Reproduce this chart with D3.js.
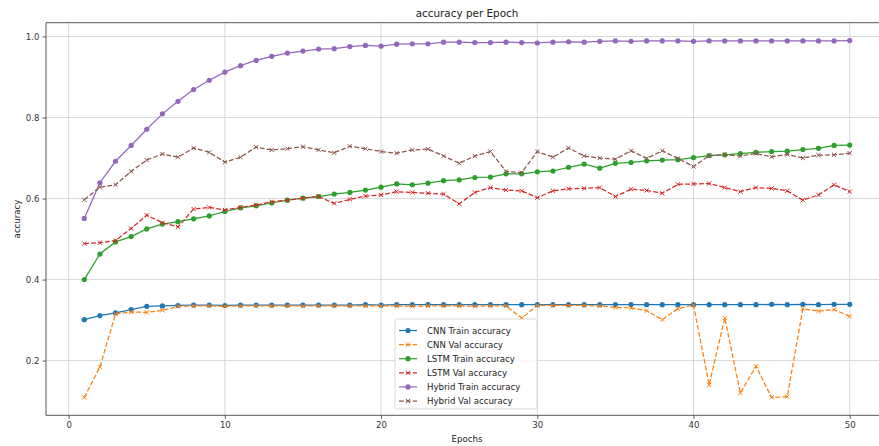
<!DOCTYPE html>
<html>
<head>
<meta charset="utf-8">
<script src="https://cdn.jsdelivr.net/npm/d3@7"></script>
<style>
  html, body { margin: 0; padding: 0; background: #fff; }
  svg { display: block; font-family: "DejaVu Sans", sans-serif; }
</style>
</head>
<body>
<svg id="chart" width="879" height="446"></svg>
<script>
// ---- Data ----
const epochs = d3.range(1, 51);

const cnnTrain = [0.301,0.311,0.318,0.326,0.334,0.335,0.336,0.337,0.337,0.336,
                  0.337,0.337,0.337,0.337,0.337,0.337,0.337,0.337,0.338,0.337,
                  0.338,0.338,0.338,0.338,0.338,0.338,0.338,0.338,0.338,0.338,
                  0.338,0.338,0.338,0.338,0.338,0.338,0.338,0.338,0.338,0.338,
                  0.338,0.338,0.338,0.338,0.339,0.338,0.339,0.338,0.339,0.339];
const cnnVal   = [0.109,0.184,0.315,0.320,0.319,0.324,0.334,0.335,0.335,0.334,
                  0.335,0.335,0.335,0.335,0.335,0.335,0.335,0.335,0.335,0.335,
                  0.335,0.334,0.335,0.335,0.335,0.334,0.335,0.335,0.305,0.336,
                  0.336,0.336,0.336,0.335,0.331,0.330,0.323,0.301,0.328,0.337,
                  0.140,0.305,0.120,0.186,0.109,0.111,0.328,0.322,0.326,0.309];
const lstmTrain = [0.400,0.463,0.493,0.506,0.525,0.537,0.543,0.550,0.557,0.568,
                   0.577,0.582,0.589,0.596,0.601,0.605,0.611,0.615,0.621,0.628,
                   0.636,0.634,0.638,0.644,0.646,0.652,0.653,0.661,0.661,0.666,
                   0.668,0.677,0.685,0.675,0.687,0.689,0.693,0.695,0.696,0.701,
                   0.706,0.708,0.711,0.714,0.716,0.717,0.721,0.724,0.731,0.732];
const lstmVal   = [0.489,0.491,0.496,0.526,0.559,0.540,0.530,0.574,0.578,0.572,
                   0.578,0.584,0.592,0.596,0.601,0.605,0.588,0.598,0.606,0.609,
                   0.617,0.615,0.613,0.611,0.587,0.615,0.627,0.621,0.619,0.602,
                   0.619,0.624,0.625,0.627,0.605,0.623,0.620,0.613,0.635,0.636,
                   0.637,0.627,0.617,0.627,0.625,0.619,0.596,0.609,0.634,0.617];
const hybridTrain = [0.551,0.639,0.692,0.731,0.771,0.809,0.840,0.869,0.892,0.912,
                     0.928,0.941,0.951,0.959,0.964,0.969,0.970,0.975,0.978,0.976,
                     0.981,0.982,0.982,0.986,0.986,0.985,0.985,0.986,0.985,0.984,
                     0.986,0.987,0.986,0.988,0.989,0.988,0.989,0.989,0.989,0.988,
                     0.989,0.989,0.989,0.989,0.989,0.989,0.989,0.989,0.989,0.990];
const hybridVal = [0.597,0.628,0.634,0.667,0.695,0.710,0.702,0.725,0.714,0.690,
                   0.702,0.727,0.720,0.723,0.728,0.720,0.713,0.729,0.723,0.716,
                   0.712,0.720,0.722,0.705,0.687,0.705,0.716,0.667,0.664,0.716,
                   0.702,0.725,0.705,0.700,0.697,0.718,0.699,0.718,0.699,0.679,
                   0.706,0.708,0.705,0.711,0.703,0.709,0.700,0.707,0.708,0.712];

const seriesNames = ["CNN Train accuracy","CNN Val accuracy","LSTM Train accuracy",
                     "LSTM Val accuracy","Hybrid Train accuracy","Hybrid Val accuracy"];
const seriesValues = [cnnTrain, cnnVal, lstmTrain, lstmVal, hybridTrain, hybridVal];
const seriesColors = ["#1f77b4","#ff7f0e","#2ca02c","#d62728","#9467bd","#8c564b"];
const seriesIsVal  = [false, true, false, true, false, true];

const xTicks = [0,10,20,30,40,50];
const yTicks = [0.2,0.4,0.6,0.8,1.0];
const titleText = "accuracy per Epoch";
const xLabelText = "Epochs";
const yLabelText = "accuracy";

// ---- Layout ----
const svg = d3.select("#chart");
const L = 46, R = 888, T = 22.7, B = 415.3;

const allY = seriesValues.flat();
const xMin = d3.min(epochs), xMax = d3.max(epochs);
const yMin = d3.min(allY), yMax = d3.max(allY);
const xPad = (xMax - xMin) * 0.05, yPad = (yMax - yMin) * 0.05;

const x = d3.scaleLinear().domain([xMin - xPad, xMax + xPad]).range([L, R]);
const y = d3.scaleLinear().domain([yMin - yPad, yMax + yPad]).range([B, T]);

// grid
const grid = svg.append("g");
grid.selectAll("line.vx").data(xTicks).join("line")
  .attr("x1", d => x(d)).attr("x2", d => x(d)).attr("y1", T).attr("y2", B)
  .attr("stroke", "#d4d4d4").attr("stroke-width", 0.9);
grid.selectAll("line.hy").data(yTicks).join("line")
  .attr("x1", L).attr("x2", R).attr("y1", d => y(d)).attr("y2", d => y(d))
  .attr("stroke", "#d4d4d4").attr("stroke-width", 0.9);

// axes
const xAxis = d3.axisBottom(x).tickValues(xTicks).tickFormat(d3.format("d")).tickSize(3.5).tickPadding(3);
const yAxis = d3.axisLeft(y).tickValues(yTicks).tickFormat(d3.format(".1f")).tickSize(3.5).tickPadding(3);

const gx = svg.append("g").attr("transform", `translate(0,${B})`).call(xAxis);
const gy = svg.append("g").attr("transform", `translate(${L},0)`).call(yAxis);
[gx, gy].forEach(g => {
  g.select(".domain").remove();
  g.selectAll(".tick line").attr("stroke", "#333").attr("stroke-width", 0.8);
  g.selectAll(".tick text").attr("fill", "#333").style("font-size", "8.6px")
   .style("font-family", "'DejaVu Sans', sans-serif");
});

// spines
svg.append("line").attr("x1", L).attr("x2", L).attr("y1", T).attr("y2", B).attr("stroke", "#444").attr("stroke-width", 0.9);
svg.append("line").attr("x1", L).attr("x2", R).attr("y1", B).attr("y2", B).attr("stroke", "#444").attr("stroke-width", 0.9);
svg.append("line").attr("x1", L).attr("x2", R).attr("y1", T).attr("y2", T).attr("stroke", "#444").attr("stroke-width", 0.9);
svg.append("line").attr("x1", R).attr("x2", R).attr("y1", T).attr("y2", B).attr("stroke", "#444").attr("stroke-width", 0.9);

// series
const line = d3.line().x((d, i) => x(epochs[i])).y(d => y(d));
const plot = svg.append("g");

function drawMarker(g, cx, cy, isVal, color) {
  if (isVal) {
    const s = 2.1;
    g.append("path")
      .attr("d", `M${cx - s},${cy - s}L${cx + s},${cy + s}M${cx - s},${cy + s}L${cx + s},${cy - s}`)
      .attr("stroke", color).attr("stroke-width", 1.0).attr("fill", "none");
  } else {
    g.append("circle").attr("cx", cx).attr("cy", cy).attr("r", 2.6).attr("fill", color);
  }
}

seriesValues.forEach((vals, si) => {
  const g = plot.append("g");
  const c = seriesColors[si];
  g.append("path").datum(vals)
    .attr("d", line).attr("fill", "none").attr("stroke", c).attr("stroke-width", 1.25)
    .attr("stroke-dasharray", seriesIsVal[si] ? "4.8,2.1" : null);
  vals.forEach((v, i) => drawMarker(g, x(epochs[i]), y(v), seriesIsVal[si], c));
});

// title and labels
svg.append("text").attr("x", (L + R) / 2).attr("y", 16.5).attr("text-anchor", "middle")
  .style("font-size", "10.4px").attr("fill", "#222").text(titleText);
svg.append("text").attr("x", (L + R) / 2).attr("y", 441.5).attr("text-anchor", "middle")
  .style("font-size", "8.6px").attr("fill", "#222").text(xLabelText);
svg.append("text").attr("transform", `translate(19.5,${(T + B) / 2}) rotate(-90)`).attr("text-anchor", "middle")
  .style("font-size", "8.6px").attr("fill", "#222").text(yLabelText);

// legend
const lgX = 395, lgY = 319, lgW = 142, lgH = 90, rowH = 14.1, firstRow = 330.5;
const lg = svg.append("g");
lg.append("rect").attr("x", lgX).attr("y", lgY).attr("width", lgW).attr("height", lgH)
  .attr("rx", 2).attr("fill", "rgba(255,255,255,0.85)").attr("stroke", "#d0d0d0").attr("stroke-width", 0.8);
seriesNames.forEach((name, i) => {
  const yy = firstRow + i * rowH;
  const c = seriesColors[i];
  lg.append("line").attr("x1", lgX + 4).attr("x2", lgX + 22).attr("y1", yy).attr("y2", yy)
    .attr("stroke", c).attr("stroke-width", 1.25)
    .attr("stroke-dasharray", seriesIsVal[i] ? "4.8,2.1" : null);
  drawMarker(lg, lgX + 13, yy, seriesIsVal[i], c);
  lg.append("text").attr("x", lgX + 32).attr("y", yy + 3.1)
    .style("font-size", "8.6px").attr("fill", "#222").text(name);
});
</script>
</body>
</html>
